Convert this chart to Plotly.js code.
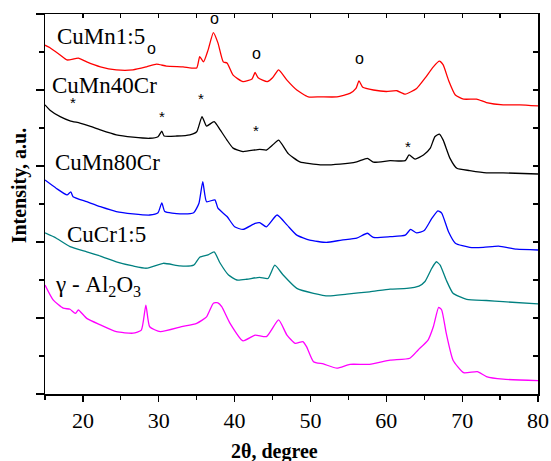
<!DOCTYPE html>
<html>
<head>
<meta charset="utf-8">
<script src="https://cdn.plot.ly/plotly-3.0.1.min.js"></script>
<style>html,body{margin:0;padding:0;background:#fff;}#chart{width:551px;height:461px;}</style>
</head>
<body>
<div id="chart"></div>
<script>
// 2-theta positions (degree) and intensities (a.u., stacked)
var redX = [15,15.66,17.0,17.9,19.4,20.5,22.3,24.4,26.6,28.4,29.7,31.0,33.2,35.0,35.4,35.9,36.5,37.2,37.8,38.5,39.0,39.8,41.1,42.3,42.7,43.1,44.3,45.0,45.8,46.9,48.2,49.7,51.3,53.5,55.2,56.0,56.4,56.9,58.3,60.0,61.4,62.5,64.0,65.1,66.2,67.0,67.5,68.2,69.1,70.2,71.9,73.2,75.4,77.6,80];
var redY = [9.18,9.11,8.92,8.79,8.84,8.74,8.61,8.53,8.53,8.61,8.68,8.63,8.61,8.58,8.88,8.74,9.05,9.51,9.24,8.74,8.71,8.39,8.22,8.29,8.46,8.32,8.22,8.32,8.53,8.26,8.00,7.82,7.82,7.82,7.91,8.04,8.24,8.07,8.00,7.96,7.98,7.89,8.04,8.31,8.61,8.76,8.66,8.26,7.87,7.76,7.76,7.67,7.61,7.61,7.58];

var blackX = [15,15.66,17.0,18.3,19.6,20.9,22.3,24.4,26.6,28.8,29.9,30.4,30.7,32.4,34.1,35.0,35.7,36.3,37.3,38.1,39.0,39.8,41.1,43.3,44.2,45.0,45.8,47.1,48.6,51.3,53.9,56.1,57.5,58.3,60.5,62.5,63.0,63.8,64.9,65.8,66.4,67.0,67.5,68.4,69.3,71.0,73.2,75.4,80];
var blackY = [7.61,7.47,7.30,7.19,7.13,7.05,6.95,6.82,6.76,6.73,6.77,6.92,6.79,6.79,6.82,6.90,7.30,7.05,7.17,6.95,6.68,6.47,6.38,6.44,6.42,6.55,6.68,6.32,6.11,6.03,6.05,6.11,6.20,6.10,6.14,6.14,6.29,6.18,6.29,6.47,6.77,6.84,6.68,6.20,5.94,5.88,5.82,5.82,5.79];

var blueX = [15,16.5,17.9,18.4,18.7,20.5,22.3,24.4,26.6,28.8,29.9,30.4,30.8,32.8,34.6,35.3,35.8,36.3,37.4,37.8,39.0,40.0,41.1,42.7,43.3,44.2,45.6,46.9,48.2,49.9,52.1,54.1,56.1,57.5,58.3,60.5,62.5,63.2,64.0,65.0,66.0,66.8,67.3,68.2,69.1,71.0,72.8,74.8,77.2,80];
var blueY = [5.63,5.41,5.24,5.32,5.19,5.06,4.93,4.80,4.74,4.71,4.77,5.03,4.80,4.74,4.77,5.02,5.59,5.06,5.11,4.89,4.67,4.40,4.33,4.49,4.51,4.40,4.71,4.45,4.18,4.05,3.99,4.05,4.10,4.23,4.12,4.14,4.18,4.33,4.24,4.30,4.62,4.82,4.76,4.27,3.97,3.86,3.86,3.89,3.81,3.79];

var tealX = [15,16.5,18.3,20.5,22.3,24.4,26.6,28.4,30.6,32.8,34.6,35.4,36.5,37.3,38.1,39.2,40.3,41.6,43.3,44.4,45.3,46.4,48.2,50.4,52.4,54.8,57.8,60.5,62.7,64.3,65.1,66.0,66.6,67.1,67.9,68.8,70.6,73.2,75.4,80];
var tealY = [4.24,4.10,3.88,3.74,3.63,3.48,3.37,3.31,3.44,3.37,3.39,3.60,3.66,3.74,3.44,3.13,3.00,3.02,3.07,3.04,3.39,3.13,2.78,2.65,2.58,2.63,2.69,2.76,2.78,2.84,2.96,3.31,3.48,3.39,3.00,2.65,2.49,2.46,2.43,2.37];

var magX = [15,16.1,17.4,18.3,19.0,19.4,20.5,22.3,24.4,26.6,27.7,28.3,28.8,30.2,33.0,35.0,36.3,37.2,37.8,38.3,39.4,41.1,42.7,44.2,45.8,46.9,48.0,49.0,49.5,50.4,51.7,53.5,55.2,57.8,60.5,63.1,64.2,65.5,66.2,66.9,67.3,67.9,68.8,70.2,72.0,73.2,75.4,80];
var magY = [2.87,2.47,2.26,2.23,2.12,2.21,1.99,1.82,1.64,1.60,1.68,2.34,1.77,1.64,1.77,1.86,2.03,2.39,2.40,2.30,1.86,1.40,1.55,1.51,1.95,1.55,1.33,1.38,1.24,0.85,0.79,0.68,0.78,0.78,0.89,0.94,1.16,1.42,1.77,2.28,2.21,1.60,0.89,0.56,0.59,0.46,0.39,0.35];

var sampleNames = ["CuMn1:5", "CuMn40Cr", "CuMn80Cr", "CuCr1:5", "\u03b3 - Al<sub>2</sub>O<sub>3</sub>"];
var labelX = [16.3, 15.66, 16.05, 17.64, 16.05];
var labelY = [9.42, 8.12, 6.09, 4.20, 2.83];

var circleX = [28.98, 37.41, 42.82, 56.53];
var circleY = [9.08, 9.89, 8.95, 8.84];
var starX = [18.65, 30.43, 35.57, 42.82, 62.86];
var starY = [7.66, 7.30, 7.78, 6.94, 6.52];

var colors = ["#ff0000", "#000000", "#0000ff", "#008080", "#ff00ff"];
var xs = [redX, blackX, blueX, tealX, magX];
var ys = [redY, blackY, blueY, tealY, magY];

var traces = [];
for (var i = 0; i < xs.length; i++) {
  traces.push({x: xs[i], y: ys[i], type: "scatter", mode: "lines",
    line: {color: colors[i], width: 1.3, shape: "spline", smoothing: 0.5}, showlegend: false, hoverinfo: "skip"});
}
traces.push({x: [null], y: [null], xaxis: "x2", yaxis: "y2", type: "scatter", mode: "lines", showlegend: false, hoverinfo: "skip"});

var serif = "Liberation Serif";
var sans = "Liberation Sans";
var ann = [];
for (var j = 0; j < sampleNames.length; j++) {
  ann.push({x: labelX[j], y: labelY[j], xref: "x", yref: "y", text: sampleNames[j], showarrow: false,
    xanchor: "left", yanchor: "middle", font: {family: serif, size: 23, color: "#000"}});
}
for (var k = 0; k < circleX.length; k++) {
  ann.push({x: circleX[k], y: circleY[k], xref: "x", yref: "y", text: "o", showarrow: false,
    xanchor: "center", yanchor: "middle", font: {family: sans, size: 16, color: "#000"}});
}
for (var m = 0; m < starX.length; m++) {
  ann.push({x: starX[m], y: starY[m], xref: "x", yref: "y", text: "*", showarrow: false,
    xanchor: "center", yanchor: "middle", font: {family: sans, size: 15, color: "#000"}});
}
ann.push({x: -0.05, y: 0.55, xref: "paper", yref: "paper", text: "<b>Intensity, a.u.</b>", textangle: -90,
  showarrow: false, xanchor: "center", yanchor: "middle", font: {family: serif, size: 20, color: "#000"}});
ann.push({x: 0.465, y: -0.152, xref: "paper", yref: "paper", text: "<b>2\u03b8, degree</b>",
  showarrow: false, xanchor: "center", yanchor: "middle", font: {family: serif, size: 20, color: "#000"}});

var layout = {
  width: 551, height: 461,
  margin: {l: 45, r: 13, t: 14, b: 67},
  paper_bgcolor: "#fff", plot_bgcolor: "#fff",
  font: {family: serif, color: "#000"},
  xaxis: {range: [15, 80], tick0: 0, dtick: 10, ticks: "outside", ticklen: 6, tickwidth: 1.2, tickcolor: "#000",
    minor: {dtick: 5, tick0: 0, ticks: "outside", ticklen: 4, tickwidth: 1.2, tickcolor: "#000", showgrid: false},
    showline: true, linecolor: "#000", linewidth: 1.5, showgrid: false, zeroline: false,
    tickfont: {family: serif, size: 22, color: "#000"}},
  yaxis: {range: [0, 10], tick0: 0, dtick: 2, ticks: "outside", ticklen: 8, tickwidth: 1.2, tickcolor: "#000",
    minor: {dtick: 1, tick0: 0, ticks: "outside", ticklen: 5, tickwidth: 1.2, tickcolor: "#000", showgrid: false},
    showticklabels: false, showline: true, linecolor: "#000", linewidth: 1.5, showgrid: false, zeroline: false},
  xaxis2: {overlaying: "x", side: "top", range: [15, 80], tick0: 0, dtick: 5, ticks: "inside", ticklen: 4,
    tickwidth: 1.2, tickcolor: "#000", showticklabels: false, showline: true, linecolor: "#000", linewidth: 1.5,
    showgrid: false, zeroline: false},
  yaxis2: {overlaying: "y", side: "right", range: [0, 10], tick0: 0, dtick: 1, ticks: "inside", ticklen: 5,
    tickwidth: 1.2, tickcolor: "#000", showticklabels: false, showline: true, linecolor: "#000", linewidth: 1.5,
    showgrid: false, zeroline: false},
  annotations: ann
};

Plotly.newPlot("chart", traces, layout, {staticPlot: true, displayModeBar: false});
</script>
</body>
</html>
